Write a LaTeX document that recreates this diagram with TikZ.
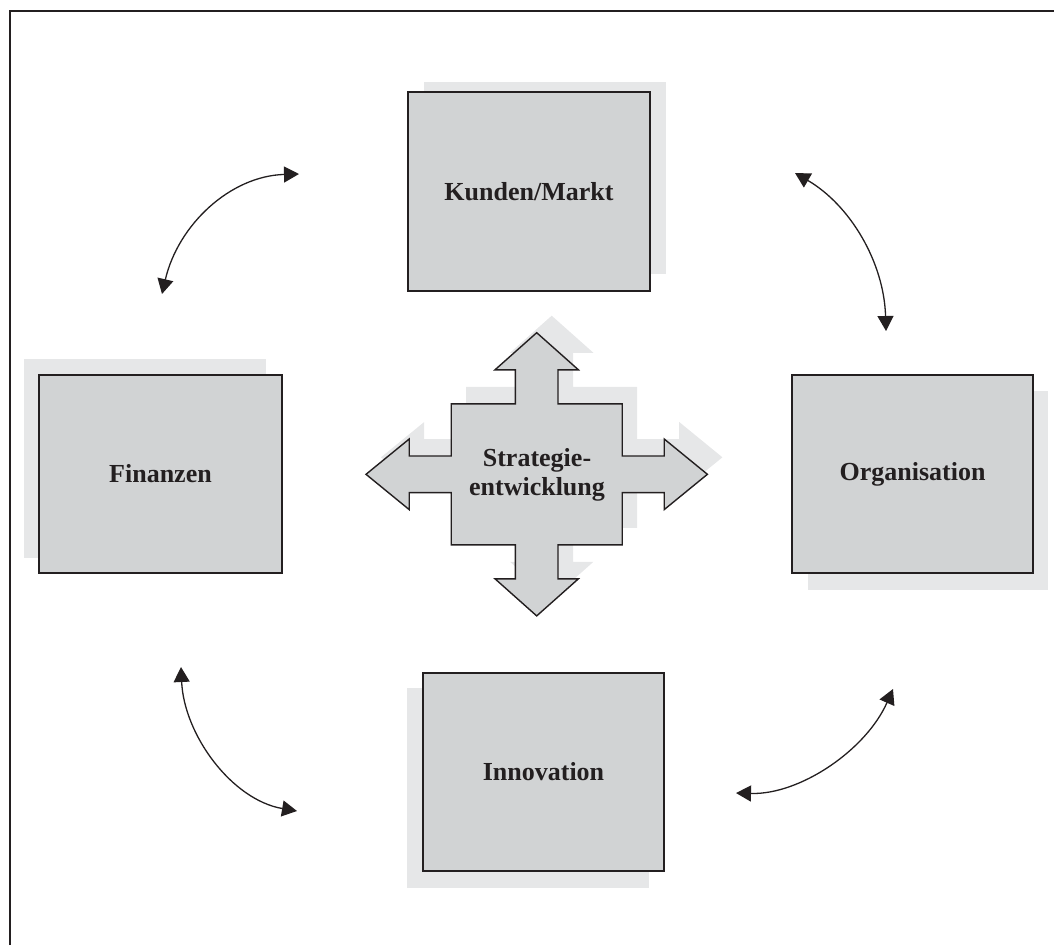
\documentclass[tikz,border=0pt]{standalone}
\usepackage{fontspec}
\setmainfont{Liberation Serif}
\usetikzlibrary{arrows.meta}
\definecolor{boxgray}{HTML}{D1D3D4}
\definecolor{shadowgray}{HTML}{E6E7E8}
\definecolor{ink}{HTML}{231F20}
\begin{document}
\begin{tikzpicture}[x=1pt,y=-1pt,
  shadowbox/.style={fill=shadowgray},
  areabox/.style={draw=ink, line width=1.4pt, fill=boxgray, inner sep=0pt, outer sep=0pt,
    text=ink, font=\fontsize{26}{29}\selectfont\bfseries},
  crossshape/.style={draw=ink, line width=1.4pt, fill=boxgray},
  link/.style={draw=ink, line width=1.3pt,
    {Triangle[length=15pt,width=16pt]}-{Triangle[length=15pt,width=16pt]}},
  frameline/.style={draw=ink, line width=2pt}]
\useasboundingbox (0,0) rectangle (1054,945);
% frame
\draw[frameline] (9.5,945) -- (9.5,11) -- (1054,11);
% shadows
\fill[shadowgray] (424,82) rectangle (666,274);
\fill[shadowgray] (24,359) rectangle (266,558);
\fill[shadowgray] (808,391) rectangle (1048,590);
\fill[shadowgray] (407,688) rectangle (649,888);
% boxes
\node[areabox, minimum width=242pt, minimum height=199pt] (kunden) at (529,191.5) {Kunden/Markt};
\node[areabox, minimum width=243pt, minimum height=198pt] (finanzen) at (160.5,474) {Finanzen};
\node[areabox, minimum width=241pt, minimum height=198pt] (organisation) at (912.5,474) {Organisation};
\node[areabox, minimum width=241pt, minimum height=198pt] (innovation) at (543.5,772) {Innovation};
% center cross
\def\crosspath{(0,-141.6) -- (41.7,-104.5) -- (21.3,-104.5) -- (21.3,-70.5) -- (85.5,-70.5) -- (85.5,-18.3) -- (127.5,-18.3) -- (127.5,-35.3) -- (170.7,0) -- (127.5,35.3) -- (127.5,18.3) -- (85.5,18.3) -- (85.5,70.5) -- (21.3,70.5) -- (21.3,104.5) -- (41.7,104.5) -- (0,141.6) -- (-41.7,104.5) -- (-21.3,104.5) -- (-21.3,70.5) -- (-85.5,70.5) -- (-85.5,18.3) -- (-127.5,18.3) -- (-127.5,35.3) -- (-170.7,0) -- (-127.5,-35.3) -- (-127.5,-18.3) -- (-85.5,-18.3) -- (-85.5,-70.5) -- (-21.3,-70.5) -- (-21.3,-104.5) -- (-41.7,-104.5) -- cycle}
\begin{scope}[shift={(551.7,457.3)}]
  \fill[shadowgray] \crosspath;
\end{scope}
\begin{scope}[shift={(536.7,474.3)}]
  \draw[crossshape] \crosspath;
\end{scope}
\node[align=center, text=ink, font=\fontsize{26}{29}\selectfont\bfseries] (strategie) at (537,475) {Strategie-\\entwicklung};
% curved arrow end points
\coordinate (a1) at (299,174);
\coordinate (a2) at (162,294);
\coordinate (b1) at (795,173);
\coordinate (b2) at (886,331);
\coordinate (c1) at (893,689);
\coordinate (c2) at (736,793);
\coordinate (d1) at (181,667);
\coordinate (d2) at (297,811);
\draw[link] (a2) .. controls (178,225) and (230,176) .. (a1);
\draw[link] (b1) .. controls (850,205) and (884,262) .. (b2);
\draw[link] (c2) .. controls (800,795) and (866,750) .. (c1);
\draw[link] (d1) .. controls (184,735) and (232,800) .. (d2);
\end{tikzpicture}
\end{document}
